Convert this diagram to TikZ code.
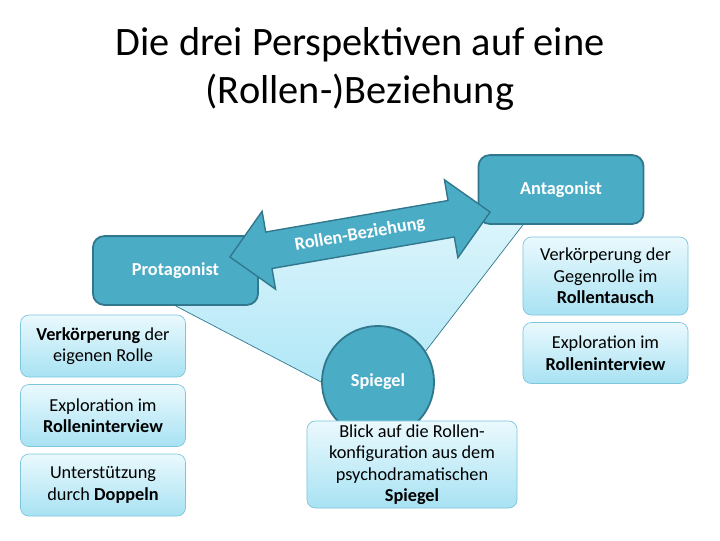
\documentclass[tikz,border=0pt]{standalone}
\usepackage{fontspec}
\setmainfont{Carlito}
\usetikzlibrary{positioning, shapes.arrows, backgrounds}

\definecolor{tealfill}{RGB}{75,172,198}
\definecolor{tealline}{RGB}{49,120,142}
\definecolor{paletop}{RGB}{234,249,253}
\definecolor{palebot}{RGB}{168,226,243}
\definecolor{paleline}{RGB}{125,198,220}
\definecolor{wedgetop}{RGB}{228,247,252}
\definecolor{wedgebot}{RGB}{176,231,247}

\begin{document}
\begin{tikzpicture}[
  x=0.025cm, y=-0.025cm,
  node distance=0.17cm and 0.17cm,
  role/.style={rectangle, draw=tealline, line width=1.3pt, rounded corners=8pt,
    fill=tealfill, text=white, font=\fontsize{13}{15}\selectfont\bfseries,
    minimum width=4.125cm, minimum height=1.72cm},
  note/.style={rectangle, draw=paleline, line width=0.5pt, rounded corners=6pt,
    top color=paletop, bottom color=palebot, align=center, inner sep=2pt,
    minimum width=4.125cm, font=\fontsize{13}{15.3}\selectfont},
  link/.style={draw=tealline, line width=0.5pt}
]
\useasboundingbox (0,0) rectangle (720,540);

\node[align=center, font=\fontsize{28.7}{33.5}\selectfont] (title) at (360,69)
  {Die drei Perspektiven auf eine\\(Rollen-)Beziehung};

\node[role] (prot) at (175.5,270.5) {Protagonist};
\node[role] (ant) at (561,189.5) {Antagonist};

\node[double arrow, draw=tealline, line width=1pt, fill=tealfill, text=white,
  font=\fontsize{13}{15}\selectfont\bfseries, rotate=9.8, inner xsep=1pt, inner ysep=7pt,
  minimum height=6.6cm, double arrow head extend=0.525cm]
  (rel) at (360,234.5) {Rollen-Beziehung};

\node[circle, draw=tealline, line width=1.3pt, fill=tealfill, text=white,
  font=\fontsize{13}{15}\selectfont\bfseries, minimum size=2.8cm] (spiegel) at (378,382) {Spiegel};
\node[note, minimum width=5.25cm, minimum height=2.175cm] (blick) at (412,464.5)
  {Blick auf die Rollen-\\konfiguration aus dem\\psychodramatischen\\\textbf{Spiegel}};

% linke Seite
\node[note, minimum height=1.55cm] (p1) at (103,346) {\textbf{Verkörperung} der\\eigenen Rolle};
\node[note, minimum height=1.55cm, below=of p1] (p2) {Exploration im\\\textbf{Rolleninterview}};
\node[note, minimum height=1.55cm, below=of p2] (p3) {Unterstützung\\durch \textbf{Doppeln}};

% rechte Seite
\node[note, minimum height=1.95cm] (a1) at (605.5,276) {Verkörperung der\\Gegenrolle im\\\textbf{Rollentausch}};
\node[note, minimum height=1.525cm, below=of a1] (a2) {Exploration im\\\textbf{Rolleninterview}};

\begin{scope}[on background layer]
\coordinate (ae) at ([xshift=-0.95cm]ant.south);
\shade[top color=wedgetop, bottom color=wedgebot]
  (prot.south) -- (spiegel.west) -- (spiegel.center) -- (spiegel.33) -- (ae)
  -- (ant.center) -- (prot.center) -- cycle;
\draw[link] (prot.south) -- (spiegel.west);
\draw[link] (ae) -- (spiegel.33);
\end{scope}
\end{tikzpicture}
\end{document}
